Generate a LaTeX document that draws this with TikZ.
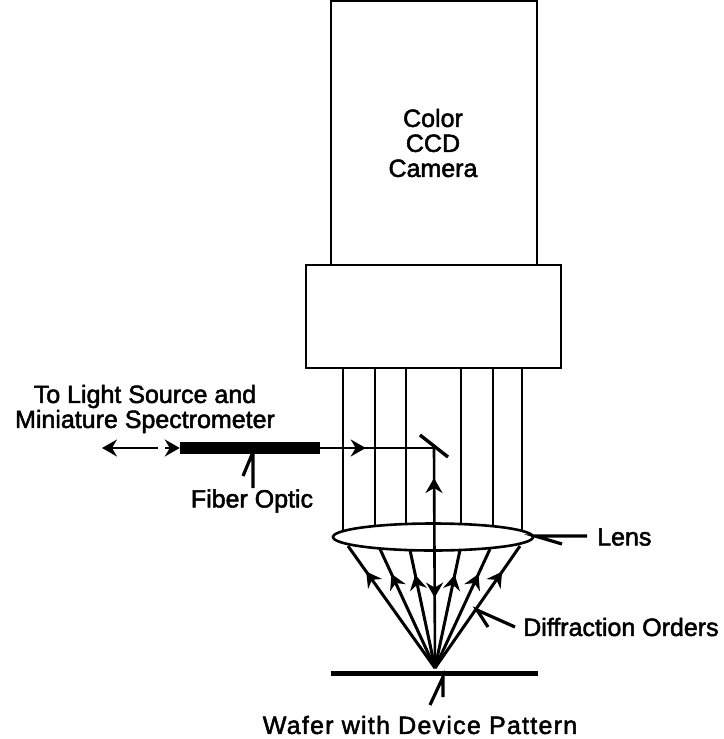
\documentclass[tikz,border=0pt]{standalone}
\usepackage{fontspec}
\setmainfont[FakeBold=2]{Liberation Sans}
\usetikzlibrary{arrows.meta,decorations.markings,shapes.geometric}

\begin{document}
\begin{tikzpicture}[x=1pt, y=-1pt, >={Stealth[length=15pt,width=17pt,inset=5pt]},
    font=\fontsize{25}{25}\selectfont,
    housing/.style={draw, line width=2.5pt, inner sep=0pt},
    beam/.style={line width=2.6pt},
    pointer/.style={line width=3.2pt, line join=miter},
    ray/.style={line width=3pt, postaction={decorate},
      decoration={markings, mark=at position #1 with {\arrow{>}}}},
    caption/.style={inner sep=0pt, align=center}]
  \useasboundingbox (0,0) rectangle (723,739);
  % ============= Camera and objective housing =============
  \node[housing, minimum width=206pt, minimum height=264pt] (camera) at (434,133) {};
  \node[housing, minimum width=255pt, minimum height=103pt] (objective) at (433.5,316.5) {};
  \node[caption] (cameralabel) at (433,143) {Color\\CCD\\Camera};
  % ============= Collimated beams above the lens =============
  \foreach \xa in {343,375,406,461,493,522}
    \draw[beam] (\xa,368) -- (\xa,530);
  % ============= Lens and wafer =============
  \node[draw, ellipse, line width=2.6pt, fill=white, inner sep=0pt,
    minimum width=200pt, minimum height=27pt] (lens) at (433,537) {};
  \coordinate (apex) at (435,668);
  \draw[line width=5pt] (331,673) -- (538,673);
  % --- orders, wafer to lens ---
  \foreach \xa/\ya in {348/546, 380/549, 410/550, 460/550, 490/549, 520/546}
    \draw[ray=0.79] (apex) -- (\xa,\ya);
  % --- centre ray, up and down ---
  \coordinate (mirrorhit) at (434,448);
  \draw[ray=0.68, line width=2.6pt] (mirrorhit) -- (apex);
  \draw[line width=3.4pt] (420,435) -- (448,457);
  % ============= Fiber =============
  \node[fill=black, inner sep=0pt, minimum width=140pt, minimum height=12pt] (fiber) at (250,448) {};
  \draw[ray=0.40, line width=2.6pt] (fiber.east) -- (mirrorhit);
  \draw[beam, ->] (158,448) -- (102,448);
  \draw[beam, ->] (165,448) -- (fiber.west);
  % ============= Labels and pointers =============
  \node[caption] (source) at (145,409) {To Light Source and\\Miniature Spectrometer};
  \node[caption] (fiberlabel) at (252,501) {Fiber Optic};
  \node[caption, anchor=west] (lenslabel) at (597,537) {Lens};
  \node[caption, anchor=west] (orderslabel) at (523,627) {Diffraction Orders};
  \node[caption] (waferlabel) at (420,725) {\addfontfeature{LetterSpace=5}Wafer with Device Pattern};
  \draw[pointer] (253,488) -- (253,452) -- (243,476);
  \draw[pointer] (587,536) -- (535,536) -- (562,544);
  \draw[pointer] (515,627) -- (477,610) -- (488,627);
  \draw[pointer] (430,705) -- (443,677) -- (443,697);
  % --- up arrow below the mirror ---
  \draw[beam, ->] (434,500) -- (434,478);
\end{tikzpicture}
\end{document}
